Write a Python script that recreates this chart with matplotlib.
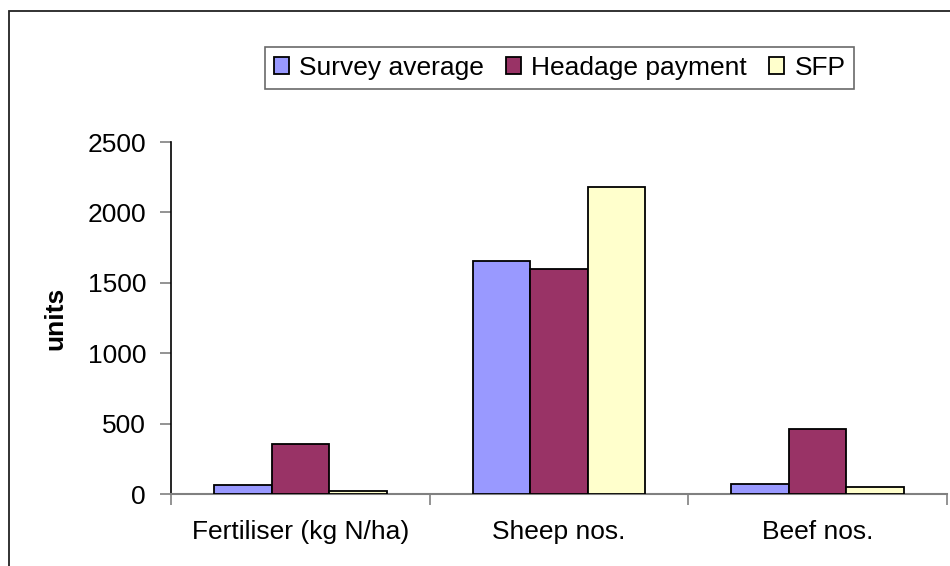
import numpy as np
import matplotlib.pyplot as plt
from matplotlib.patches import Rectangle

plt.rcParams['font.family'] = ['Liberation Sans', 'DejaVu Sans']

categories = ['Fertiliser (kg N/ha)', 'Sheep nos.', 'Beef nos.']
series_names = ['Survey average', 'Headage payment', 'SFP']
survey_avg = [62, 1655, 72]
headage = [355, 1595, 462]
sfp = [22, 2180, 48]
colors = ['#9999FF', '#993366', '#FFFFCC']
yticks = [0, 500, 1000, 1500, 2000, 2500]

fs = 19

fig = plt.figure(figsize=(9.5, 5.66), dpi=100)
ax = fig.add_axes([0.18, 0.1272, 0.8168, 0.6219])

# outer chart border
fig.patches.append(Rectangle((0.0095, -0.05), 1.2, 1.031, transform=fig.transFigure,
                             fill=False, edgecolor='#222222', linewidth=1.3))

x = np.arange(len(categories))
w = 2 / 9
for i, (vals, name) in enumerate(zip([survey_avg, headage, sfp], series_names)):
    ax.bar(x + (i - 1) * w, vals, width=w, color=colors[i], edgecolor='black',
           linewidth=1.3, label=name, zorder=3)

ax.set_xlim(-0.5, 2.5)
ax.set_ylim(0, 2500)
ax.set_yticks(yticks)
ax.set_xticks([-0.5, 0.5, 1.5, 2.5])
ax.set_xticklabels([])
ax.set_xticks(x, minor=True)
ax.set_xticklabels(categories, minor=True)
ax.tick_params(axis='x', which='minor', length=0, pad=19, labelsize=fs)
ax.tick_params(axis='x', which='major', length=8, color='#808080', width=1.2)
ax.tick_params(axis='y', length=8, color='#808080', width=1.2, labelsize=fs, pad=10)
# first category boundary tick continues the black y axis line
ax.xaxis.get_major_ticks()[0].tick1line.set_color('black')

for s in ['top', 'right']:
    ax.spines[s].set_visible(False)
ax.spines['left'].set_color('black')
ax.spines['left'].set_linewidth(1.2)
ax.spines['bottom'].set_color('#808080')
ax.spines['bottom'].set_linewidth(1.5)

ax.set_ylabel('units', fontsize=fs, fontweight='bold', va='center')
ax.yaxis.set_label_coords(-0.149, 0.5)

leg = fig.legend(loc='center left', bbox_to_anchor=(0.279, 0.880), ncol=3,
                 fontsize=fs, frameon=True, fancybox=False, edgecolor='#444444',
                 handlelength=0.57, handleheight=0.57, handletextpad=0.38,
                 columnspacing=0.85, borderpad=0.33, borderaxespad=0)
leg.get_frame().set_linewidth(1.2)

plt.savefig('out.png', dpi=100)
